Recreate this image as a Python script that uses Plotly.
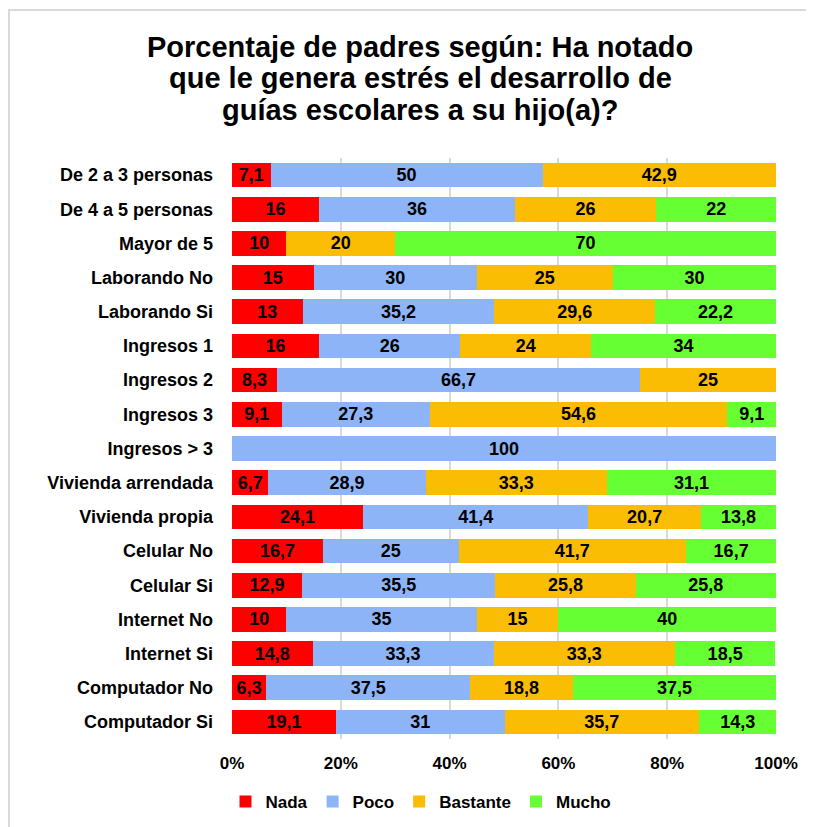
import plotly.graph_objects as go

categories = ["De 2 a 3 personas", "De 4 a 5 personas", "Mayor de 5", "Laborando No",
              "Laborando Si", "Ingresos 1", "Ingresos 2", "Ingresos 3", "Ingresos > 3",
              "Vivienda arrendada", "Vivienda propia", "Celular No", "Celular Si",
              "Internet No", "Internet Si", "Computador No", "Computador Si"]
nada = [7.1, 16, 10, 15, 13, 16, 8.3, 9.1, 0, 6.7, 24.1, 16.7, 12.9, 10, 14.8, 6.3, 19.1]
poco = [50, 36, 0, 30, 35.2, 26, 66.7, 27.3, 100, 28.9, 41.4, 25, 35.5, 35, 33.3, 37.5, 31]
bastante = [42.9, 26, 20, 25, 29.6, 24, 25, 54.6, 0, 33.3, 20.7, 41.7, 25.8, 15, 33.3, 18.8, 35.7]
mucho = [0, 22, 70, 30, 22.2, 34, 0, 9.1, 0, 31.1, 13.8, 16.7, 25.8, 40, 18.5, 37.5, 14.3]
tick_vals = [0, 20, 40, 60, 80, 100]
tick_text = ["0%", "20%", "40%", "60%", "80%", "100%"]
title_lines = ["Porcentaje de padres según: Ha notado",
               "que le genera estrés el desarrollo de",
               "guías escolares a su hijo(a)?"]

series = [("Nada", nada, "#FF0000"), ("Poco", poco, "#8EB4F8"),
          ("Bastante", bastante, "#FBBC04"), ("Mucho", mucho, "#66FF33")]

def fmt(v):
    if v == 0:
        return ""
    return ("%g" % v).replace(".", ",")

FONT = "Arial, Liberation Sans, sans-serif"
fig = go.Figure()
for name, vals, col in series:
    fig.add_trace(go.Bar(
        y=categories, x=vals, name=name, orientation="h",
        marker=dict(color=col, line=dict(width=0)),
        text=[fmt(v) for v in vals], textposition="inside",
        insidetextanchor="middle", textangle=0,
        textfont=dict(family=FONT, size=18, color="#000000", weight="bold"),
        hoverinfo="x+y+name",
    ))

# figure is drawn 8px in from the page corner
FW, FH = 806, 819
L, R, T, B = 224, 768, 150, 731
W, H = R - L, B - T

def px(x):
    return (x - L) / W

def py(y):
    return (B - y) / H

annotations = []
for i, line in enumerate(title_lines):
    annotations.append(dict(
        text="<b>%s</b>" % line, xref="paper", yref="paper",
        x=px(412), y=py(39 + i * 31.5), xanchor="center", yanchor="middle",
        showarrow=False, font=dict(family=FONT, size=29, color="#000000")))

fig.update_layout(
    barmode="stack",
    width=FW, height=FH,
    margin=dict(l=L, r=FW - R, t=T, b=FH - B),
    paper_bgcolor="white", plot_bgcolor="white",
    bargap=0.28,
    uniformtext=dict(minsize=18, mode="show"),
    annotations=annotations,
    legend=dict(orientation="h", x=413 / FW, xanchor="center", xref="container",
                y=1 - 794 / FH, yanchor="middle", yref="container",
                font=dict(family=FONT, size=17, color="#000000", weight="bold"),
                traceorder="normal", itemwidth=30),
    xaxis=dict(range=[0, 100], tickvals=tick_vals, ticktext=tick_text,
               showgrid=True, gridcolor="#D9D9D9", gridwidth=2,
               zeroline=False, showline=False, ticks="",
               tickfont=dict(family=FONT, size=17, color="#000000", weight="bold"),
               ticklabelstandoff=12),
    yaxis=dict(autorange="reversed", showgrid=False, ticks="",
               showline=False,
               tickfont=dict(family=FONT, size=18, color="#000000", weight="bold"),
               ticklabelstandoff=18),
    shapes=[dict(type="rect", xref="paper", yref="paper",
                 x0=px(1), x1=px(900), y0=py(900), y1=py(2),
                 line=dict(color="#D9D9D9", width=2), layer="below")],
)
fig.write_html("out.html")
